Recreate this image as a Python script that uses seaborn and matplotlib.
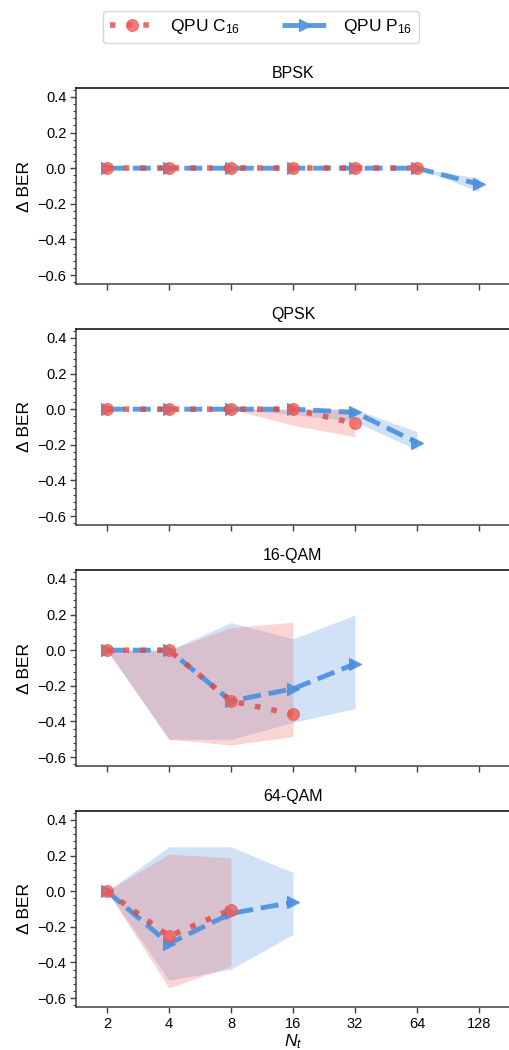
import numpy as np
import pandas as pd
import matplotlib
matplotlib.use("Agg")
import matplotlib.pyplot as plt
from matplotlib.ticker import AutoMinorLocator, FixedLocator, NullLocator
from matplotlib.lines import Line2D
import seaborn as sns

sns.set_style("ticks")
plt.rcParams["font.family"] = ["Liberation Sans", "DejaVu Sans"]
plt.rcParams["mathtext.fontset"] = "custom"
plt.rcParams["mathtext.rm"] = "Liberation Sans"
plt.rcParams["mathtext.it"] = "Liberation Sans:italic"
plt.rcParams["text.color"] = "black"
plt.rcParams["axes.labelcolor"] = "black"
plt.rcParams["xtick.labelcolor"] = "black"
plt.rcParams["ytick.labelcolor"] = "black"

# Number of transmit antennas
nt = [2, 4, 8, 16, 32, 64, 128]
nt_labels = ["2", "4", "8", "16", "32", "64", "128"]
panels = ["BPSK", "QPSK", "16-QAM", "64-QAM"]

# QPU C16: mean delta BER and min/max band per modulation
c16_nt = {
    "BPSK": [2, 4, 8, 16, 32, 64],
    "QPSK": [2, 4, 8, 16, 32],
    "16-QAM": [2, 4, 8, 16],
    "64-QAM": [2, 4, 8],
}
c16_mean = {
    "BPSK": [0.0, 0.0, 0.0, 0.0, 0.0, 0.0],
    "QPSK": [0.0, 0.0, 0.0, 0.0, -0.08],
    "16-QAM": [0.0, 0.0, -0.285, -0.36],
    "64-QAM": [0.0, -0.253, -0.103],
}
c16_low = {
    "BPSK": [0.0, 0.0, 0.0, 0.0, 0.0, 0.0],
    "QPSK": [0.0, 0.0, 0.0, -0.09, -0.155],
    "16-QAM": [0.0, -0.50, -0.532, -0.485],
    "64-QAM": [0.0, -0.543, -0.42],
}
c16_high = {
    "BPSK": [0.0, 0.0, 0.0, 0.0, 0.0, 0.0],
    "QPSK": [0.0, 0.0, 0.0, 0.0, 0.0],
    "16-QAM": [0.0, 0.0, 0.127, 0.157],
    "64-QAM": [0.0, 0.208, 0.187],
}

# QPU P16: mean delta BER and min/max band per modulation
p16_nt = {
    "BPSK": [2, 4, 8, 16, 32, 64, 128],
    "QPSK": [2, 4, 8, 16, 32, 64],
    "16-QAM": [2, 4, 8, 16, 32],
    "64-QAM": [2, 4, 8, 16],
}
p16_mean = {
    "BPSK": [0.0, 0.0, 0.0, 0.0, 0.0, 0.0, -0.09],
    "QPSK": [0.0, 0.0, 0.0, 0.0, -0.018, -0.187],
    "16-QAM": [0.0, 0.0, -0.285, -0.217, -0.077],
    "64-QAM": [0.0, -0.294, -0.125, -0.062],
}
p16_low = {
    "BPSK": [0.0, 0.0, 0.0, 0.0, 0.0, 0.0, -0.13],
    "QPSK": [0.0, 0.0, 0.0, -0.03, -0.07, -0.229],
    "16-QAM": [0.0, -0.50, -0.50, -0.406, -0.328],
    "64-QAM": [0.0, -0.50, -0.438, -0.243],
}
p16_high = {
    "BPSK": [0.0, 0.0, 0.0, 0.0, 0.0, 0.0, -0.055],
    "QPSK": [0.0, 0.0, 0.0, 0.0, 0.0, -0.126],
    "16-QAM": [0.0, 0.0, 0.155, 0.064, 0.197],
    "64-QAM": [0.0, 0.249, 0.249, 0.105],
}

red = "#ef5b55"
red_line = "#d94a48"
blue = "#4a8fe0"

c_style = dict(color=red_line, linewidth=4.0, linestyle=(0, (1, 2)),
               marker="o", markersize=8.5, markerfacecolor=red,
               markeredgecolor=red, markeredgewidth=0.8, alpha=0.8)
p_style = dict(color=blue, linewidth=3.5, linestyle=(0, (3.7, 1.6)),
               marker=">", markersize=9, markeredgecolor=blue,
               markeredgewidth=0.8, alpha=0.9)

W, H = 509, 1050
fig = plt.figure(figsize=(W / 100, H / 100), dpi=100)

left_px, right_px = 76, 510
tops_px = [88, 329, 570, 811]
height_px = 196

for i, name in enumerate(panels):
    ax = fig.add_axes([left_px / W, 1 - (tops_px[i] + height_px) / H,
                       (right_px - left_px) / W, height_px / H])

    # min/max bands
    ax.fill_between(p16_nt[name], p16_low[name], p16_high[name],
                    color=blue, alpha=0.25, linewidth=0, zorder=1)
    ax.fill_between(c16_nt[name], c16_low[name], c16_high[name],
                    color=red, alpha=0.25, linewidth=0, zorder=1)

    dfp = pd.DataFrame({"nt": p16_nt[name], "dber": p16_mean[name]})
    dfc = pd.DataFrame({"nt": c16_nt[name], "dber": c16_mean[name]})

    sns.lineplot(data=dfp, x="nt", y="dber", ax=ax, zorder=3,
                 legend=False, **p_style)
    sns.lineplot(data=dfc, x="nt", y="dber", ax=ax, zorder=4,
                 legend=False, **c_style)

    ax.set_xscale("log", base=2)
    ax.set_xlim(2 ** 0.5, 2 ** 7.5)
    ax.xaxis.set_major_locator(FixedLocator(nt))
    ax.xaxis.set_minor_locator(NullLocator())
    ax.set_ylim(-0.65, 0.45)
    ax.set_yticks([-0.6, -0.4, -0.2, 0.0, 0.2, 0.4])
    ax.yaxis.set_minor_locator(AutoMinorLocator(5))
    ax.tick_params(axis="both", which="major", labelsize=10.5, length=4,
                   width=1, color="0.25", labelcolor="black", pad=3)
    ax.tick_params(axis="y", which="minor", length=2.2, width=0.8, color="0.25")

    if i == len(panels) - 1:
        ax.set_xticklabels(nt_labels)
        ax.set_xlabel("$N_t$", fontsize=12.5, labelpad=1)
    else:
        ax.set_xticklabels([])
        ax.set_xlabel("")

    ax.set_ylabel("Δ BER", fontsize=12.5, labelpad=4)
    ax.set_title(name, fontsize=11.5, pad=7, color="black")

    ax.spines["right"].set_visible(False)
    ax.spines["top"].set_color("black")
    ax.spines["left"].set_color("0.25")
    ax.spines["bottom"].set_color("0.25")
    for s in ["top", "left", "bottom"]:
        ax.spines[s].set_linewidth(1.1)

handles = [Line2D([], [], **c_style), Line2D([], [], **p_style)]
fig.legend(handles, ["QPU C$_{16}$", "QPU P$_{16}$"], loc="center",
           bbox_to_anchor=(261 / W, 1 - 27 / H), ncol=2, fontsize=12.5,
           frameon=True, handlelength=2.6, columnspacing=2.4,
           borderpad=0.4, handletextpad=0.9)

fig.savefig("out.png", dpi=100)
